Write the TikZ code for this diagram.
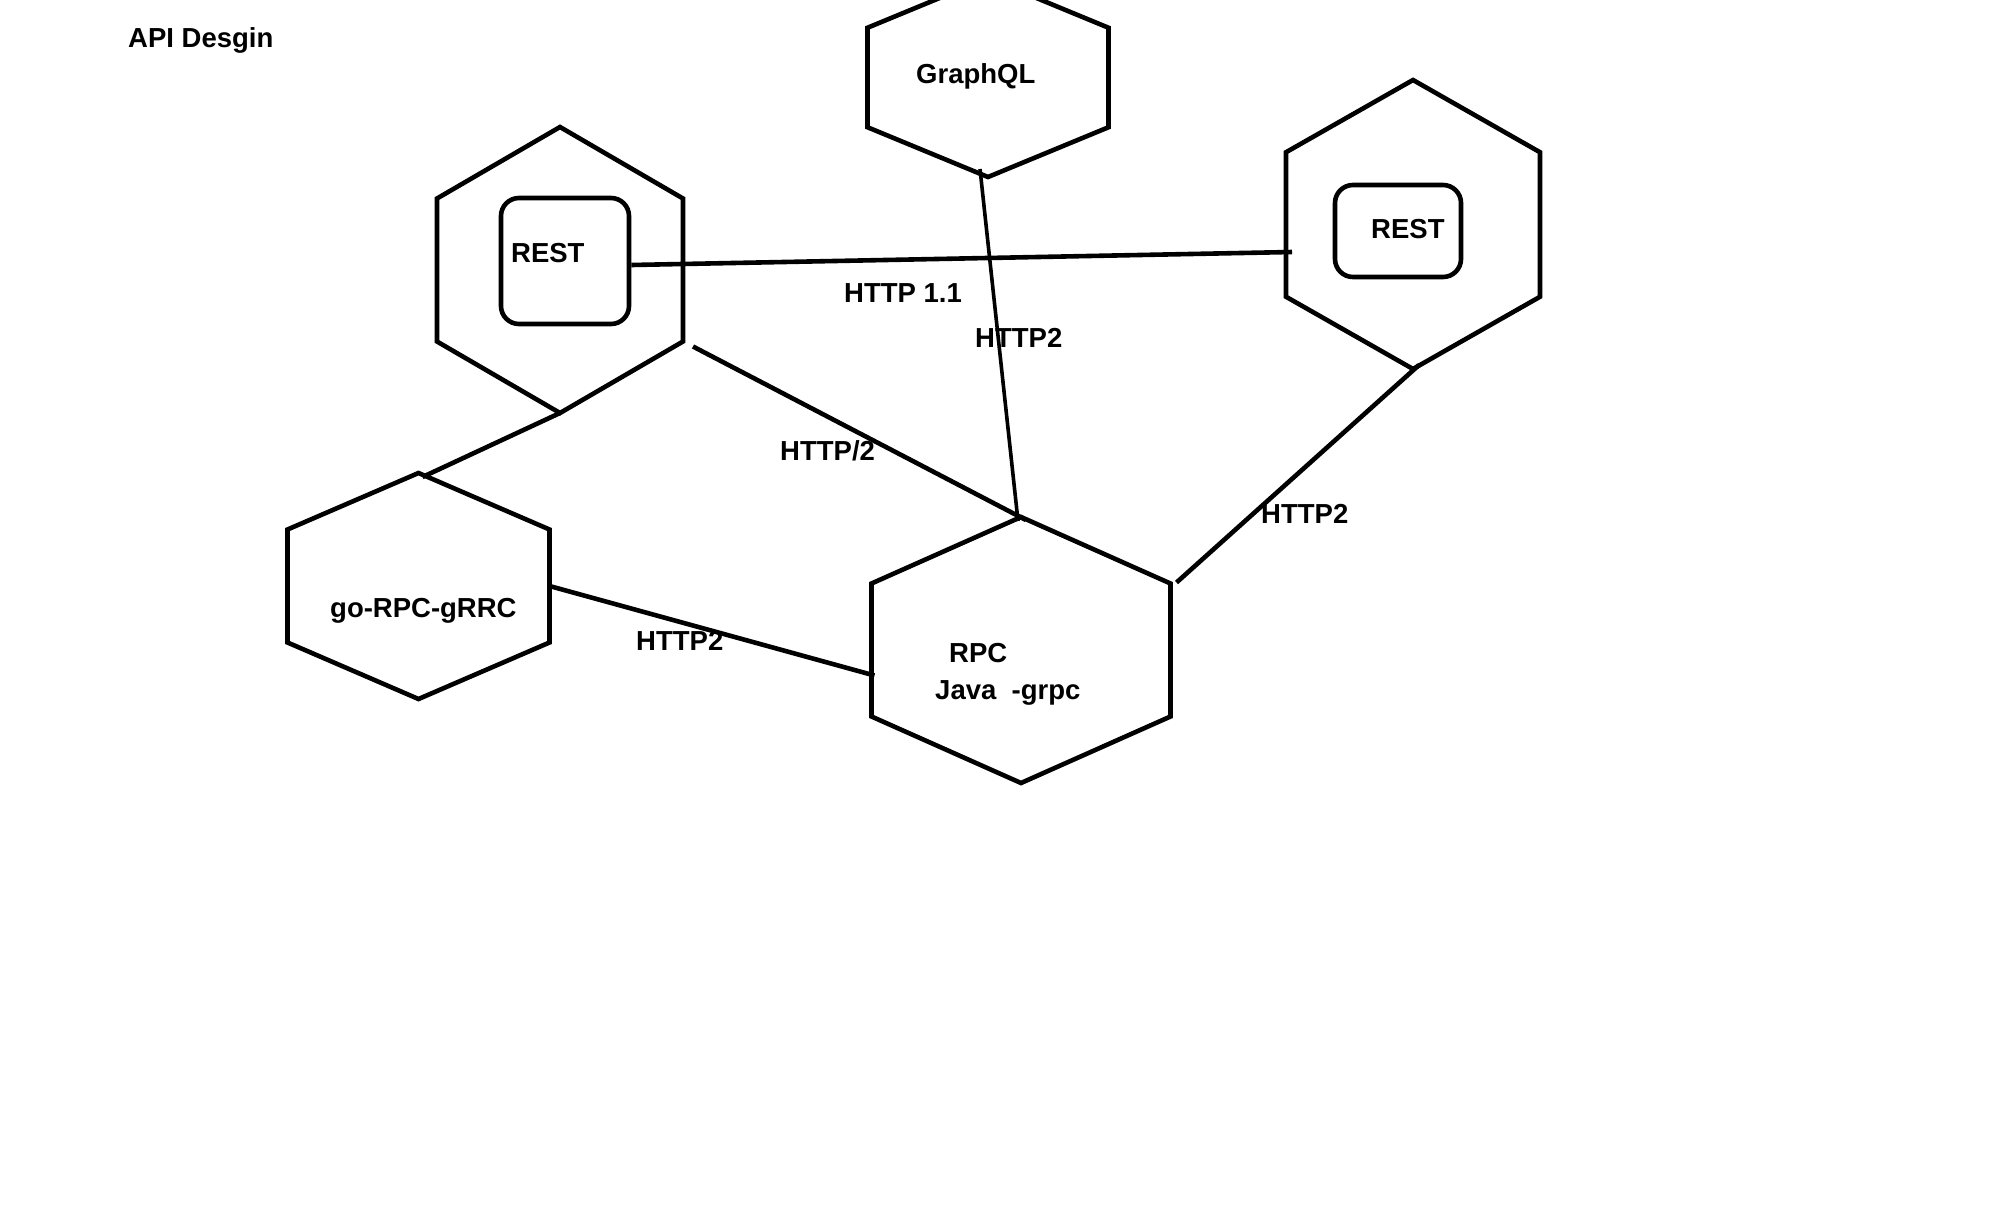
\documentclass[tikz,border=0pt]{standalone}
\usepackage{fontspec}
\setmainfont{Liberation Sans}
\usetikzlibrary{calc}

% Hexagon with pointed top: name, centre x, centre y, half width, half height
\newcommand\hexat[5]{%
  \coordinate (#1-t)  at (#2,#3-#5);
  \coordinate (#1-ur) at (#2+#4,#3-#5/2);
  \coordinate (#1-e)  at (#2+#4,#3);
  \coordinate (#1-lr) at (#2+#4,#3+#5/2);
  \coordinate (#1-b)  at (#2,#3+#5);
  \coordinate (#1-ll) at (#2-#4,#3+#5/2);
  \coordinate (#1-ul) at (#2-#4,#3-#5/2);
  \draw[hexline] (#1-t) -- (#1-ur) -- (#1-lr) -- (#1-b) -- (#1-ll) -- (#1-ul) -- cycle;
}

\begin{document}
\begin{tikzpicture}[x=1pt,y=-1pt,
  hexline/.style={line width=4.6pt, line join=miter},
  wire/.style={line width=4.6pt},
  thinwire/.style={line width=3.6pt},
  roundbox/.style={draw, line width=4.6pt, rounded corners=18pt, inner sep=0pt},
  lbl/.style={anchor=base west, inner sep=0pt,
              font=\fontsize{27.5}{33}\selectfont\bfseries}]

\fill[white] (0,0) rectangle (1992,1227);
\useasboundingbox (0,0) rectangle (1992,1227);
\clip (0,0) rectangle (1992,1227);

% services
\hexat{A}{560}{270}{123}{143}
\hexat{B}{988}{77.5}{120.5}{99.5}
\hexat{C}{1413}{224.5}{127}{144.5}
\hexat{D}{418.5}{586}{131}{113}
\hexat{E}{1021}{650}{149.5}{133}

% inner REST boxes
\node[roundbox, minimum width=128pt, minimum height=126pt] (boxA) at (565,261) {};
\node[roundbox, minimum width=126pt, minimum height=92pt] (boxC) at (1398,231) {};

% connector ends inside the shapes
\coordinate (Cin) at (1292,252);
\coordinate (Bout) at ($(B-b)+(-8,-8)$);
\coordinate (Etop1) at ($(E-t)+(-3,4)$);
\coordinate (Etop2) at ($(E-t)+(5,3)$);
\coordinate (Aout) at ($(A-lr)+(10,5)$);
\coordinate (Dtop) at ($(D-t)+(4,4)$);
\coordinate (Ein) at ($(E-ll)+(3,-41)$);
\coordinate (Eout) at ($(E-ur)+(6,-1)$);
\coordinate (Cbot) at ($(C-b)+(6,-4)$);

% connectors
\draw[wire] ([yshift=-4pt]boxA.east) -- (Cin);
\draw[thinwire] (Bout) -- (Etop1);
\draw[wire] (Aout) -- (Etop2);
\draw[wire] (A-b) -- (Dtop);
\draw[wire] (D-e) -- (Ein);
\draw[wire] (Eout) -- (Cbot);

% texts
\node[lbl] (title) at (128,47) {API Desgin};
\node[lbl] (restA) at (511,262) {REST};
\node[lbl] (graphql) at (916,83) {GraphQL};
\node[lbl] (restC) at (1371,238) {REST};
\node[lbl] (gorpc) at (330,617) {go-RPC-gRRC};
\node[lbl] (rpc) at (949,662) {RPC};
\node[lbl] (java) at (935,699) {Java\ \ -grpc};

% connector labels
\node[lbl] (l11) at (844,302) {HTTP 1.1};
\node[lbl] (lgql) at (975,347) {HTTP2};
\node[lbl] (lslash) at (780,460) {HTTP/2};
\node[lbl] (lgo) at (636,650) {HTTP2};
\node[lbl] (lrest) at (1261,523) {HTTP2};

\end{tikzpicture}
\end{document}
